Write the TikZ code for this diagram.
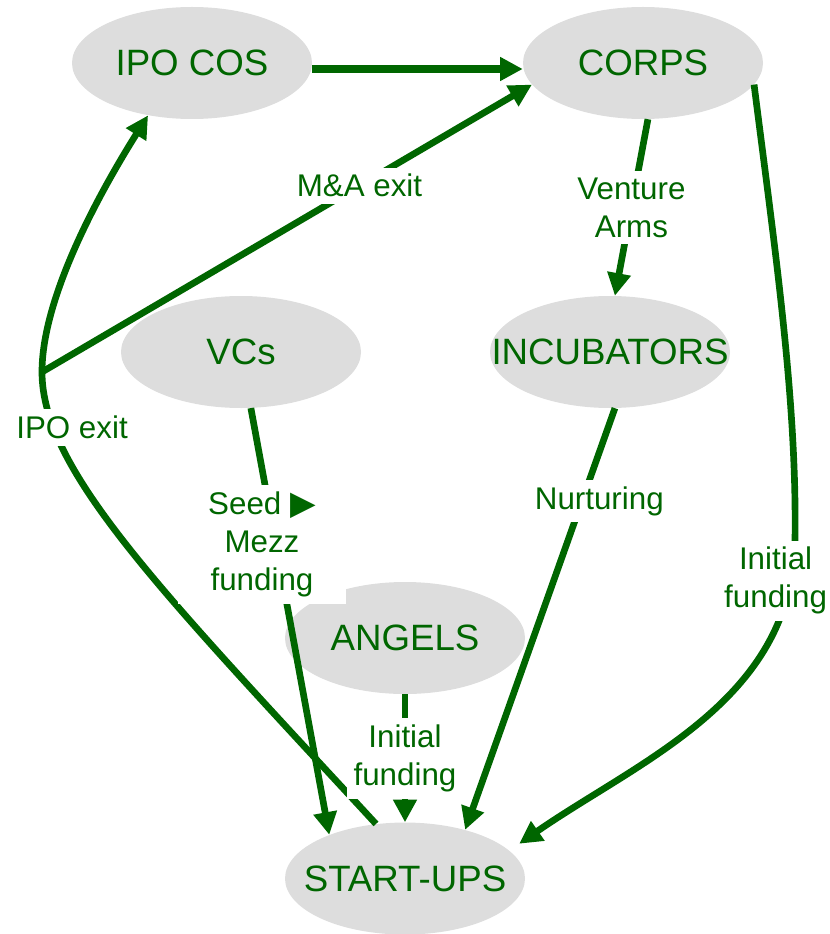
\documentclass[tikz,border=0pt]{standalone}
\usepackage{fontspec}
\setmainfont{Liberation Sans}
\newfontfamily\trifont{DejaVu Sans}
\usetikzlibrary{arrows.meta, positioning, shapes.geometric}
\definecolor{vcgreen}{RGB}{0,102,0}
\definecolor{blobgray}{RGB}{221,221,221}
\newcommand{\seedtri}{{\trifont\fontsize{25}{19}\selectfont ▶}}

\begin{document}
\begin{tikzpicture}[x=0.75pt,y=-0.75pt,
  blob/.style={ellipse,fill=blobgray,text=vcgreen,minimum width=180pt,
    minimum height=84pt,inner xsep=-30pt,inner ysep=0pt,
    font=\fontsize{27.5}{33}\selectfont},
  lbl/.style={fill=white,text=vcgreen,align=center,inner sep=5pt,
    font=\fontsize{23.5}{28.5}\selectfont},
  arr/.style={-{Triangle[length=17pt,width=17pt]},line width=5pt,draw=vcgreen}]
  \useasboundingbox (0,0) rectangle (829,934);
  \node[blob](ipocos) at (192,63){IPO COS};
  \node[blob](corps) at (643,63){CORPS};
  \node[blob](vcs) at (241,352){VCs};
  \node[blob](incub) at (610,352){INCUBATORS};
  \node[blob](angels) at (405,638){ANGELS};
  \node[blob,below=96pt of angels](startups){START-UPS};
  \coordinate (split) at (42,372);
  % exits
  \draw[arr,line width=6.5pt]([yshift=-4.5pt]ipocos.east)--([yshift=-4.5pt]corps.west);
  \draw[arr](split)--node[lbl,pos=0.648]{M\&A exit}(corps.191);
  \draw[arr](startups.118) .. controls (160,590) and (42,470) ..
    node[lbl,pos=0.82,xshift=14pt]{IPO exit}(split)
    .. controls (42,300) and (95,200) .. (ipocos.230);
  % funding
  \draw[arr](corps.275)--node[lbl]{Venture\\Arms}(incub.85);
  \draw[arr,shorten >=9pt](corps.349) .. controls (775,250) and (797,400) .. (795,540)
    .. controls (793,700) and (640,760) .. node[lbl,pos=0.09,xshift=-11.5pt]{Initial\\funding}(startups.15);
  \draw[arr](incub.275)--node[lbl,pos=0.22,xshift=13pt]{Nurturing}(startups.39);
  \draw[arr](vcs.280)--node[lbl,pos=0.32,xshift=-10.5pt,minimum width=126pt]{Seed \seedtri\\Mezz\\funding}(startups.150);
  \draw[arr](angels)--node[lbl]{Initial\\funding}(startups);
\end{tikzpicture}
\end{document}
